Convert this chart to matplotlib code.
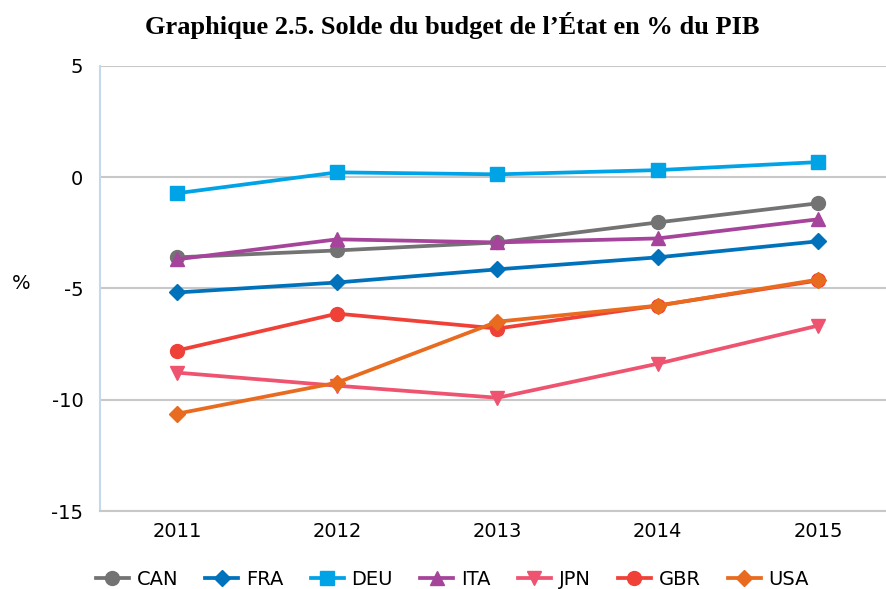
import numpy as np
import matplotlib
matplotlib.use("Agg")
import matplotlib.pyplot as plt

plt.rcParams["font.family"] = "DejaVu Sans"
plt.rcParams["axes.unicode_minus"] = False

years = ["2011", "2012", "2013", "2014", "2015"]
CAN = [-3.6, -3.29, -2.93, -2.03, -1.17]
FRA = [-5.18, -4.73, -4.14, -3.6, -2.88]
DEU = [-0.72, 0.22, 0.13, 0.32, 0.68]
ITA = [-3.69, -2.79, -2.93, -2.75, -1.89]
JPN = [-8.78, -9.37, -9.91, -8.38, -6.67]
GBR = [-7.79, -6.13, -6.8, -5.77, -4.64]
USA = [-10.63, -9.23, -6.49, -5.77, -4.6]

series = [
    ("CAN", CAN, "#737373", "o"),
    ("FRA", FRA, "#0072BC", "D"),
    ("DEU", DEU, "#00A3E6", "s"),
    ("ITA", ITA, "#A5449A", "^"),
    ("JPN", JPN, "#EE5370", "v"),
    ("GBR", GBR, "#EF4138", "o"),
    ("USA", USA, "#E86B1F", "D"),
]

fig = plt.figure(figsize=(8.87, 5.89), dpi=100)
ax = fig.add_axes([0.1127, 0.1324, 0.8873, 0.7556])
x = np.arange(len(years))
for name, vals, col, mk in series:
    ms = 8 if mk == "D" else 10
    ax.plot(x, vals, color=col, marker=mk, markersize=ms, linewidth=2.7, label=name)

ax.set_xlim(-0.48, 4.43)
ax.set_ylim(-15, 5)
ax.set_yticks([5, 0, -5, -10, -15])
ax.set_xticks(x)
ax.set_xticklabels(years)
ax.grid(axis="y", color="#c8c8c8", linewidth=1.5)
ax.set_axisbelow(True)
for s in ["top", "right"]:
    ax.spines[s].set_visible(False)
ax.spines["left"].set_color("#c5d9ea")
ax.spines["left"].set_linewidth(1.5)
ax.spines["bottom"].set_color("#c8c8c8")
ax.spines["bottom"].set_linewidth(1.5)
ax.tick_params(length=0, labelsize=14)
ax.tick_params(axis="y", pad=12)
ax.tick_params(axis="x", pad=8)
ax.set_ylabel("%", rotation=0, fontsize=14)
ax.yaxis.set_label_coords(-0.1, 0.49)

fig.suptitle("Graphique 2.5. Solde du budget de l\u2019\u00c9tat en % du PIB",
             x=0.51, y=0.98, fontsize=19, fontweight="bold", family="Liberation Serif")

fig.legend(loc="lower center", bbox_to_anchor=(0.51, -0.03), ncol=7, frameon=False,
           fontsize=14, handlelength=1.7, columnspacing=1.4, handletextpad=0.4)

fig.savefig("out.png", dpi=100)
